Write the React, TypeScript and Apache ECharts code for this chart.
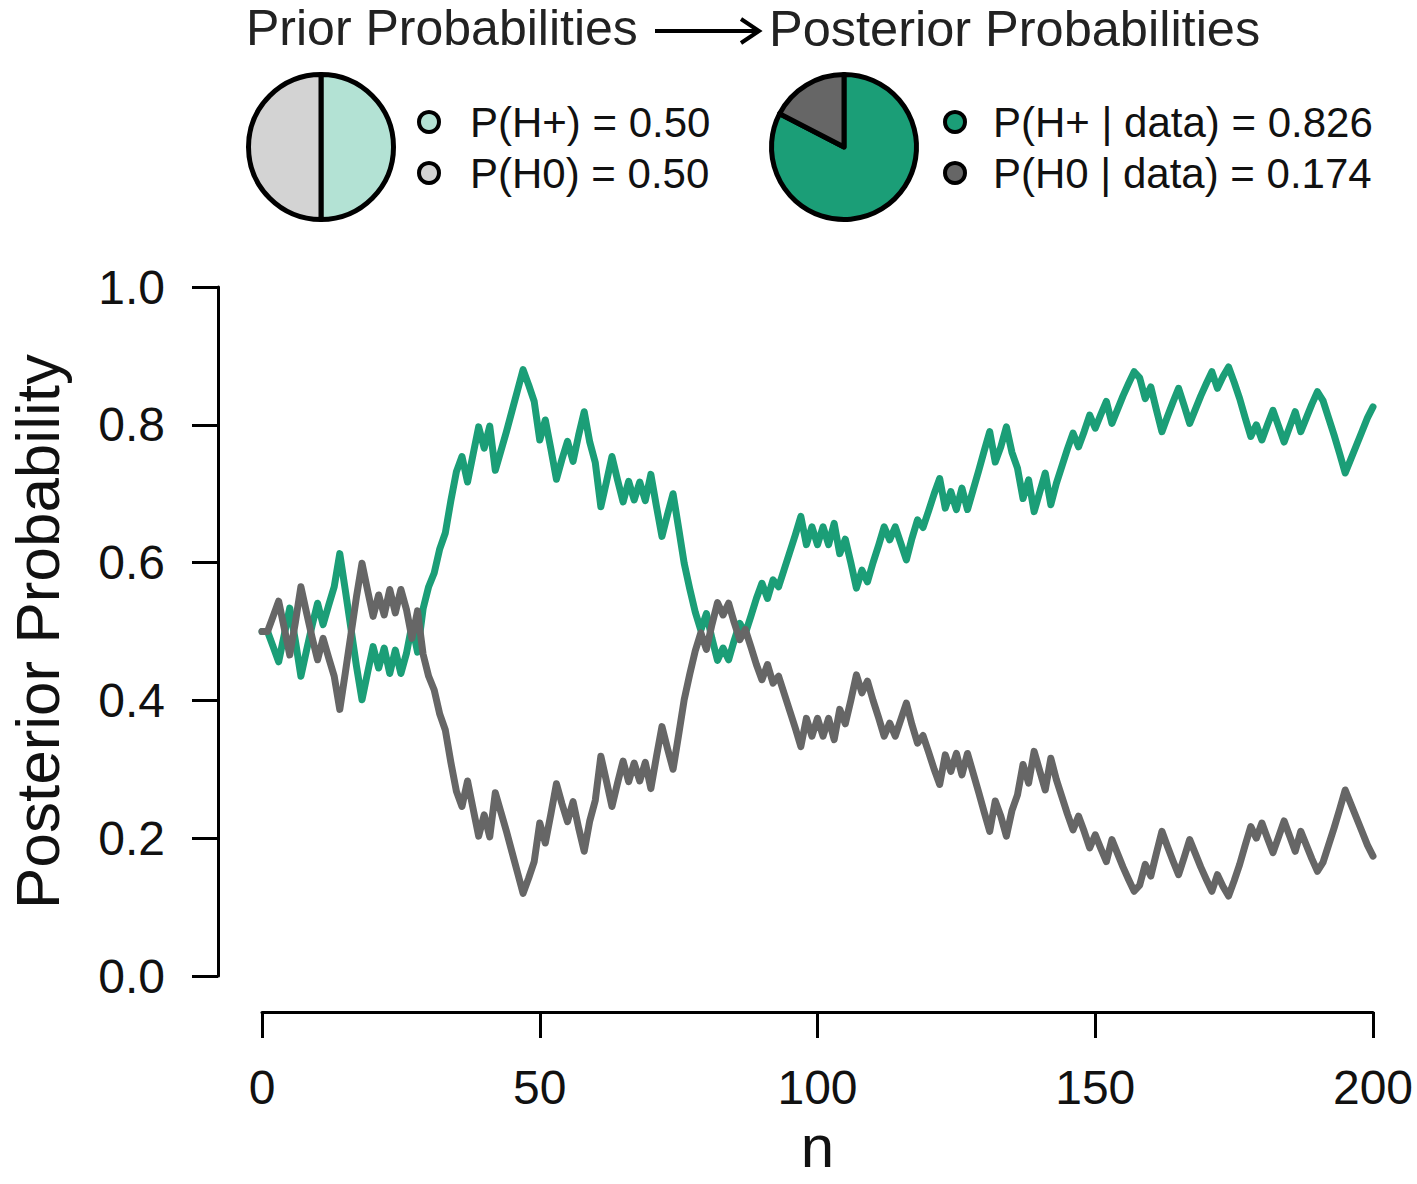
import React, { useEffect, useRef } from "react";
import * as echarts from "echarts";

const FONT = '"Liberation Sans", Arial, Helvetica, sans-serif';

// Posterior probability of H+ after n observations (n = 0..200)
const pHplus = [
  0.500, 0.500, 0.478, 0.456, 0.495, 0.534, 0.487, 0.435, 0.472, 0.508,
  0.541, 0.510, 0.538, 0.565, 0.613, 0.560, 0.505, 0.450, 0.401, 0.440,
  0.478, 0.447, 0.476, 0.439, 0.473, 0.439, 0.468, 0.510, 0.470, 0.533,
  0.565, 0.585, 0.620, 0.643, 0.690, 0.732, 0.754, 0.717, 0.757, 0.797,
  0.766, 0.798, 0.734, 0.762, 0.790, 0.820, 0.850, 0.880, 0.858, 0.834,
  0.778, 0.807, 0.765, 0.721, 0.750, 0.776, 0.747, 0.785, 0.819, 0.775,
  0.745, 0.681, 0.717, 0.754, 0.720, 0.688, 0.718, 0.691, 0.717, 0.690,
  0.728, 0.682, 0.638, 0.670, 0.700, 0.650, 0.599, 0.562, 0.528, 0.502,
  0.526, 0.490, 0.458, 0.476, 0.459, 0.487, 0.512, 0.497, 0.522, 0.548,
  0.570, 0.548, 0.575, 0.565, 0.590, 0.615, 0.640, 0.667, 0.626, 0.652,
  0.626, 0.652, 0.626, 0.657, 0.613, 0.634, 0.600, 0.563, 0.589, 0.572,
  0.600, 0.625, 0.652, 0.633, 0.652, 0.628, 0.604, 0.635, 0.662, 0.651,
  0.675, 0.700, 0.722, 0.679, 0.703, 0.677, 0.708, 0.677, 0.705, 0.733,
  0.762, 0.790, 0.746, 0.768, 0.797, 0.760, 0.737, 0.693, 0.720, 0.674,
  0.702, 0.730, 0.684, 0.715, 0.740, 0.765, 0.788, 0.768, 0.790, 0.814,
  0.795, 0.815, 0.834, 0.802, 0.822, 0.842, 0.860, 0.877, 0.868, 0.838,
  0.855, 0.822, 0.790, 0.812, 0.833, 0.853, 0.828, 0.802, 0.822, 0.842,
  0.860, 0.877, 0.853, 0.870, 0.884, 0.862, 0.838, 0.810, 0.783, 0.800,
  0.778, 0.800, 0.821, 0.798, 0.775, 0.797, 0.819, 0.790, 0.810, 0.830,
  0.848, 0.835, 0.810, 0.785, 0.758, 0.730, 0.750, 0.770, 0.790, 0.810,
  0.826,
];

// Posterior probability of H0 after n observations (n = 0..200)
const pH0 = [
  0.500, 0.500, 0.522, 0.544, 0.505, 0.466, 0.513, 0.565, 0.528, 0.492,
  0.459, 0.490, 0.462, 0.435, 0.387, 0.440, 0.495, 0.550, 0.599, 0.560,
  0.522, 0.553, 0.524, 0.561, 0.527, 0.561, 0.532, 0.490, 0.530, 0.467,
  0.435, 0.415, 0.380, 0.357, 0.310, 0.268, 0.246, 0.283, 0.243, 0.203,
  0.234, 0.202, 0.266, 0.238, 0.210, 0.180, 0.150, 0.120, 0.142, 0.166,
  0.222, 0.193, 0.235, 0.279, 0.250, 0.224, 0.253, 0.215, 0.181, 0.225,
  0.255, 0.319, 0.283, 0.246, 0.280, 0.312, 0.282, 0.309, 0.283, 0.310,
  0.272, 0.318, 0.362, 0.330, 0.300, 0.350, 0.401, 0.438, 0.472, 0.498,
  0.474, 0.510, 0.542, 0.524, 0.541, 0.513, 0.488, 0.503, 0.478, 0.452,
  0.430, 0.452, 0.425, 0.435, 0.410, 0.385, 0.360, 0.333, 0.374, 0.348,
  0.374, 0.348, 0.374, 0.343, 0.387, 0.366, 0.400, 0.437, 0.411, 0.428,
  0.400, 0.375, 0.348, 0.367, 0.348, 0.372, 0.396, 0.365, 0.338, 0.349,
  0.325, 0.300, 0.278, 0.321, 0.297, 0.323, 0.292, 0.323, 0.295, 0.267,
  0.238, 0.210, 0.254, 0.232, 0.203, 0.240, 0.263, 0.307, 0.280, 0.326,
  0.298, 0.270, 0.316, 0.285, 0.260, 0.235, 0.212, 0.232, 0.210, 0.186,
  0.205, 0.185, 0.166, 0.198, 0.178, 0.158, 0.140, 0.123, 0.132, 0.162,
  0.145, 0.178, 0.210, 0.188, 0.167, 0.147, 0.172, 0.198, 0.178, 0.158,
  0.140, 0.123, 0.147, 0.130, 0.116, 0.138, 0.162, 0.190, 0.217, 0.200,
  0.222, 0.200, 0.179, 0.202, 0.225, 0.203, 0.181, 0.210, 0.190, 0.170,
  0.152, 0.165, 0.190, 0.215, 0.242, 0.270, 0.250, 0.230, 0.210, 0.190,
  0.174,
];

const xTicks = [0, 50, 100, 150, 200];
const yTicks = [0.0, 0.2, 0.4, 0.6, 0.8, 1.0];

const priorLabels = ["P(H+) = 0.50", "P(H0) = 0.50"];
const priorValues = [0.5, 0.5];
const posteriorLabels = ["P(H+ | data) = 0.826", "P(H0 | data) = 0.174"];
const posteriorValues = [0.826, 0.174];

const GREEN = "#1b9e77";
const GRAY = "#666666";
const LIGHT_GREEN = "#b3e2d4";
const LIGHT_GRAY = "#d3d3d3";
const TEXT = "#111111";

export default function App() {
  const ref = useRef<HTMLDivElement>(null);

  useEffect(() => {
    if (!ref.current) return;
    const chart = echarts.init(ref.current, undefined, { renderer: "svg" });

    const greenData = pHplus.map((v, i) => [i, v]);
    const grayData = pH0.map((v, i) => [i, v]);

    const legendCircle = (cx: number, cy: number, fill: string) => ({
      type: "circle",
      shape: { cx, cy, r: 10 },
      style: { fill, stroke: "#000", lineWidth: 4 },
      silent: true,
    });
    const legendText = (x: number, y: number, text: string) => ({
      type: "text",
      x,
      y,
      style: {
        text,
        fill: TEXT,
        font: `42px ${FONT}`,
        verticalAlign: "middle",
        align: "left",
      },
      silent: true,
    });

    const option: any = {
      animation: false,
      backgroundColor: "#ffffff",
      textStyle: { fontFamily: FONT },
      grid: {
        left: 262,
        right: 44,
        top: 287,
        bottom: 208,
        containLabel: false,
        outerBoundsMode: "none",
      },
      xAxis: {
        type: "value",
        min: 0,
        max: 200,
        interval: 50,
        offset: 36,
        axisLine: { show: true, onZero: false, lineStyle: { color: "#000", width: 3 } },
        axisTick: { show: true, length: 26, lineStyle: { color: "#000", width: 3 } },
        axisLabel: {
          fontSize: 48,
          color: TEXT,
          margin: 51,
          fontFamily: FONT,
          formatter: (v: number) => (xTicks.includes(v) ? String(v) : ""),
        },
        splitLine: { show: false },
        name: "n",
        nameLocation: "middle",
        nameGap: 109,
        nameTextStyle: { fontSize: 60, color: TEXT, fontFamily: FONT, lineHeight: 50 },
      },
      yAxis: {
        type: "value",
        min: 0,
        max: 1,
        interval: 0.2,
        offset: 44,
        axisLine: { show: true, onZero: false, lineStyle: { color: "#000", width: 3 } },
        axisTick: { show: true, length: 26, lineStyle: { color: "#000", width: 3 } },
        axisLabel: {
          fontSize: 48,
          color: TEXT,
          margin: 53,
          fontFamily: FONT,
          formatter: (v: number) => {
            const t = yTicks.find((y) => Math.abs(y - v) < 1e-9);
            return t === undefined ? "" : t.toFixed(1);
          },
        },
        splitLine: { show: false },
        name: "Posterior Probability",
        nameLocation: "middle",
        nameGap: 152,
        nameRotate: 90,
        nameTextStyle: { fontSize: 62, color: TEXT, fontFamily: FONT, lineHeight: 58 },
      },
      series: [
        {
          name: "P(H+ | data)",
          type: "line",
          data: greenData,
          showSymbol: false,
          symbol: "none",
          lineStyle: { color: GREEN, width: 7, join: "round", cap: "round" },
          itemStyle: { color: GREEN },
          z: 2,
          silent: true,
        },
        {
          name: "P(H0 | data)",
          type: "line",
          data: grayData,
          showSymbol: false,
          symbol: "none",
          lineStyle: { color: GRAY, width: 7, join: "round", cap: "round" },
          itemStyle: { color: GRAY },
          z: 3,
          silent: true,
        },
        {
          name: "prior",
          type: "pie",
          center: [321, 147],
          radius: [0, 72.5],
          startAngle: 90,
          clockwise: true,
          label: { show: false },
          labelLine: { show: false },
          silent: true,
          itemStyle: { borderColor: "#000", borderWidth: 5 },
          data: [
            { name: "H+", value: priorValues[0], itemStyle: { color: LIGHT_GREEN } },
            { name: "H0", value: priorValues[1], itemStyle: { color: LIGHT_GRAY } },
          ],
        },
        {
          name: "posterior",
          type: "pie",
          center: [844, 147],
          radius: [0, 72.5],
          startAngle: 90,
          clockwise: true,
          label: { show: false },
          labelLine: { show: false },
          silent: true,
          itemStyle: { borderColor: "#000", borderWidth: 5 },
          data: [
            { name: "H+ | data", value: posteriorValues[0], itemStyle: { color: GREEN } },
            { name: "H0 | data", value: posteriorValues[1], itemStyle: { color: GRAY } },
          ],
        },
      ],
      graphic: [
        {
          type: "text",
          x: 246,
          y: 28,
          style: {
            text: "Prior Probabilities",
            fill: "#222",
            font: `50px ${FONT}`,
            lineHeight: 46,
            verticalAlign: "middle",
            align: "left",
          },
          silent: true,
        },
        {
          type: "line",
          shape: { x1: 655, y1: 31, x2: 757, y2: 31 },
          style: { stroke: "#000", lineWidth: 4 },
          silent: true,
        },
        {
          type: "polyline",
          shape: { points: [[741, 19], [759, 31], [741, 43]] },
          style: { stroke: "#000", lineWidth: 4, fill: "none" },
          silent: true,
        },
        {
          type: "text",
          x: 769,
          y: 28,
          style: {
            text: "Posterior Probabilities",
            fill: "#222",
            font: `50.5px ${FONT}`,
            lineHeight: 46,
            verticalAlign: "middle",
            align: "left",
          },
          silent: true,
        },
        legendCircle(429, 122, LIGHT_GREEN),
        legendCircle(429, 173, LIGHT_GRAY),
        legendText(470, 122, priorLabels[0]),
        legendText(470, 173, priorLabels[1]),
        legendCircle(955, 122, GREEN),
        legendCircle(955, 173, GRAY),
        legendText(993, 122, posteriorLabels[0]),
        legendText(993, 173, posteriorLabels[1]),
      ],
    };

    chart.setOption(option);
    return () => {
      chart.dispose();
    };
  }, []);

  return (
    <div
      ref={ref}
      style={{ position: "absolute", left: 0, top: 0, width: 1417, height: 1184, background: "#fff" }}
    />
  );
}
